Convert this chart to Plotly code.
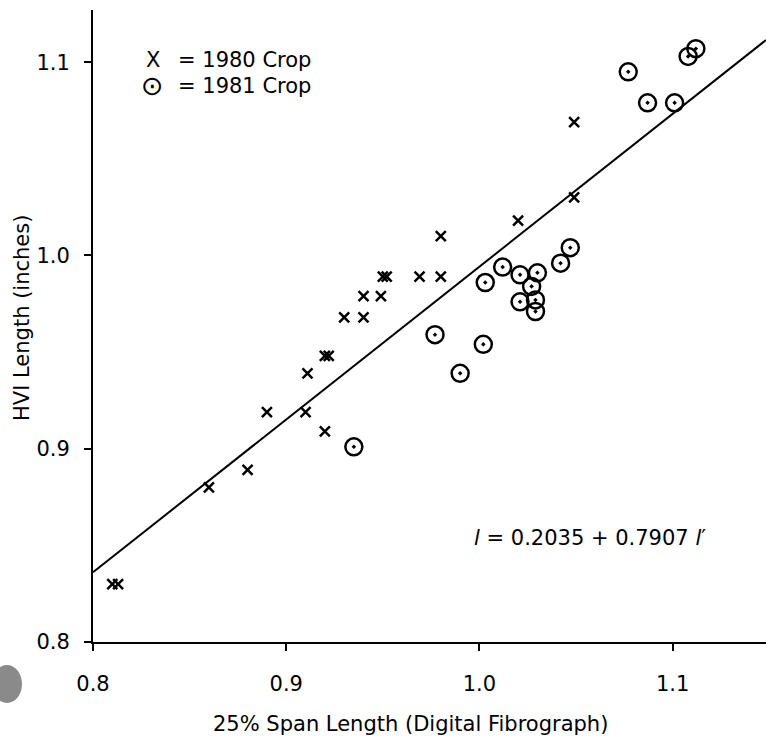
import plotly.graph_objects as go

# 1980 crop (x markers)
x1980 = [0.810, 0.813, 0.860, 0.880, 0.890, 0.910, 0.920, 0.911, 0.920, 0.922,
         0.930, 0.940, 0.940, 0.949, 0.950, 0.952, 0.969, 0.980, 0.980,
         1.020, 1.049, 1.049]
y1980 = [0.830, 0.830, 0.880, 0.889, 0.919, 0.919, 0.909, 0.939, 0.948, 0.948,
         0.968, 0.968, 0.979, 0.979, 0.989, 0.989, 0.989, 1.010, 0.989,
         1.018, 1.069, 1.030]

# 1981 crop (circle-dot markers)
x1981 = [0.935, 0.977, 0.990, 1.002, 1.003, 1.012, 1.021, 1.030, 1.027, 1.021,
         1.029, 1.029, 1.042, 1.047, 1.077, 1.087, 1.101, 1.108, 1.112]
y1981 = [0.901, 0.959, 0.939, 0.954, 0.986, 0.994, 0.990, 0.991, 0.984, 0.976,
         0.977, 0.971, 0.996, 1.004, 1.095, 1.079, 1.079, 1.103, 1.107]

intercept = 0.2035
slope = 0.7907
x_range = [0.8, 1.1483]
y_range = [0.8, 1.127]
ticks = [0.8, 0.9, 1.0, 1.1]
tick_text = ["0.8", "0.9", "1.0", "1.1"]

FONT = "DejaVu Sans"
W, H = 766, 744
L, R, T, B = 93, 0, 10, 102
pw, ph = W - L - R, H - T - B


def px(x):
    # window pixel x -> paper
    return (x - L) / pw


def py(y):
    # window pixel y -> paper
    return (H - B - y) / ph


fit_x = x_range
fit_y = [intercept + slope * v for v in fit_x]

fig = go.Figure()
fig.add_trace(go.Scatter(x=fit_x, y=fit_y, mode="lines",
                         line=dict(color="black", width=2), showlegend=False,
                         cliponaxis=False))
fig.add_trace(go.Scatter(x=x1980, y=y1980, mode="markers", showlegend=False,
                         marker=dict(symbol="x-thin", size=10, color="black",
                                     line=dict(color="black", width=2.5))))
fig.add_trace(go.Scatter(x=x1981, y=y1981, mode="markers", showlegend=False,
                         marker=dict(symbol="circle-open-dot", size=17, color="black",
                                     line=dict(color="black", width=2.5))))

axis_common = dict(showgrid=False, zeroline=False, showline=True, linecolor="black",
                   linewidth=2, ticks="outside", ticklen=7, tickwidth=2,
                   tickcolor="black", tickvals=ticks, ticktext=tick_text,
                   tickfont=dict(family=FONT, size=21, color="black"))

fig.update_layout(
    width=W, height=H,
    margin=dict(l=L, r=R, t=T, b=B),
    plot_bgcolor="white", paper_bgcolor="white",
    xaxis=dict(range=x_range, ticklabelstandoff=15, **axis_common),
    yaxis=dict(range=y_range, ticklabelstandoff=10, **axis_common),
    showlegend=False,
)

ann = []
txt = dict(family=FONT, size=21, color="black")
ann.append(dict(x=px(410), y=py(724), xref="paper", yref="paper", showarrow=False,
                text="25% Span Length (Digital Fibrograph)", font=txt,
                xanchor="center", yanchor="middle"))
ann.append(dict(x=px(22), y=py(318), xref="paper", yref="paper", showarrow=False,
                text="HVI Length (inches)", font=txt, textangle=-90,
                xanchor="center", yanchor="middle"))
ann.append(dict(x=px(153), y=py(60), xref="paper", yref="paper", showarrow=False,
                text="X", font=txt, xanchor="center", yanchor="middle"))
ann.append(dict(x=px(176), y=py(60), xref="paper", yref="paper", showarrow=False,
                text="= 1980 Crop", font=txt, xanchor="left", yanchor="middle"))
ann.append(dict(x=px(152), y=py(86), xref="paper", yref="paper", showarrow=False,
                text="⊙", font=dict(family=FONT, size=27, color="black"),
                xanchor="center", yanchor="middle"))
ann.append(dict(x=px(176), y=py(86), xref="paper", yref="paper", showarrow=False,
                text="= 1981 Crop", font=txt, xanchor="left", yanchor="middle"))
ann.append(dict(x=px(472), y=py(538), xref="paper", yref="paper", showarrow=False,
                text="<i>l</i> = 0.2035 + 0.7907 <i>l</i>′", font=txt,
                xanchor="left", yanchor="middle"))
fig.update_layout(annotations=ann)

# scan artifact blob at lower-left
fig.add_shape(type="circle", xref="paper", yref="paper",
              x0=px(-8), x1=px(22), y0=py(703), y1=py(665),
              fillcolor="#8a8a8a", line=dict(color="#8a8a8a", width=0))

fig.write_html("out.html",
               config={"displayModeBar": False},
               post_script="document.body.style.margin='0px';"
                           "document.body.style.overflow='hidden';")
